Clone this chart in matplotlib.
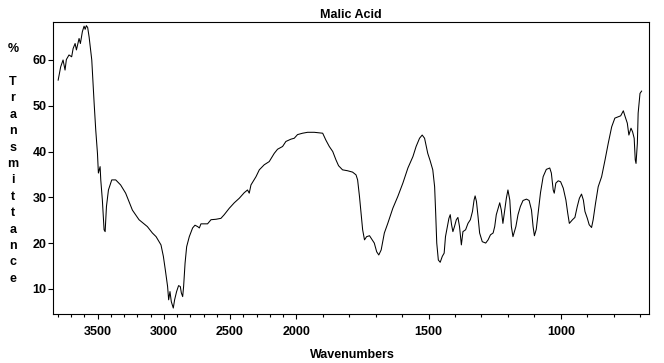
import numpy as np
import matplotlib
matplotlib.use('Agg')
import matplotlib.pyplot as plt
from matplotlib.ticker import FixedLocator, MultipleLocator

# spectrum (wavenumber cm-1, % transmittance)
wavenumbers = [3799, 3780, 3762, 3747, 3737, 3717, 3697, 3686, 3671, 3661, 3641, 3631,
               3616, 3603, 3595, 3586, 3576, 3565, 3545, 3527, 3515, 3502, 3495, 3482,
               3477, 3465, 3452, 3444, 3434, 3419, 3394, 3364, 3327, 3289, 3238, 3188,
               3125, 3087, 3059, 3022, 3004, 2989, 2972, 2964, 2954, 2944, 2929, 2919,
               2904, 2889, 2876, 2868, 2858, 2851, 2840, 2828, 2808, 2783, 2765, 2745,
               2732, 2720, 2695, 2670, 2644, 2606, 2569, 2544, 2506, 2468, 2430, 2393,
               2368, 2355, 2342, 2304, 2279, 2242, 2204, 2166, 2141, 2103, 2078, 2040,
               2015, 1995, 1976, 1957, 1932, 1900, 1888, 1875, 1862, 1850, 1840, 1825,
               1806, 1787, 1774, 1768, 1761, 1755, 1749, 1742, 1734, 1723, 1713, 1705,
               1696, 1688, 1679, 1667, 1654, 1635, 1616, 1597, 1578, 1559, 1547, 1534,
               1524, 1515, 1503, 1494, 1484, 1477, 1473, 1469, 1463, 1456, 1448, 1441,
               1436, 1431, 1423, 1418, 1413, 1408, 1402, 1395, 1389, 1383, 1376, 1370,
               1360, 1351, 1342, 1334, 1328, 1324, 1319, 1313, 1307, 1297, 1284, 1275,
               1266, 1256, 1250, 1244, 1237, 1231, 1225, 1219, 1212, 1206, 1200, 1193,
               1187, 1181, 1170, 1162, 1153, 1143, 1130, 1120, 1111, 1105, 1100, 1093,
               1086, 1077, 1067, 1055, 1042, 1036, 1029, 1025, 1019, 1010, 1001, 991,
               981, 974, 968, 962, 956, 947, 938, 930, 922, 915, 909, 900,
               893, 884, 878, 869, 859, 846, 833, 821, 808, 796, 783, 774,
               764, 757, 749, 743, 735, 729, 723, 719, 716, 711, 708, 701, 695]
transmittance = [55.6, 58.5, 60.0, 57.8, 60.1, 61.1, 60.7, 62.5, 63.6, 62.2, 64.7, 63.6,
                 66.2, 67.4, 66.7, 67.5, 67.1, 65.0, 60.0, 50.5, 44.7, 39.6, 35.3, 36.7,
                 33.8, 29.4, 22.9, 22.5, 28.0, 31.6, 33.8, 33.8, 32.7, 30.9, 27.2, 25.1,
                 23.6, 22.2, 21.4, 19.6, 17.1, 14.1, 10.5, 7.6, 9.4, 7.2, 5.8, 7.6,
                 9.4, 10.7, 10.5, 9.1, 8.3, 10.5, 15.6, 19.2, 21.4, 23.3, 23.9, 23.6,
                 23.3, 24.2, 24.2, 24.2, 25.1, 25.2, 25.4, 26.2, 27.6, 28.8, 29.8, 31.0,
                 31.6, 30.9, 32.7, 34.5, 36.0, 37.1, 37.8, 39.6, 40.5, 41.1, 42.2, 42.7,
                 42.9, 43.7, 44.0, 44.2, 44.2, 44.0, 42.5, 41.1, 40.0, 38.2, 36.9, 36.0,
                 35.8, 35.5, 34.9, 33.8, 30.2, 26.5, 22.9, 20.7, 21.4, 21.6, 20.7, 20.0,
                 18.1, 17.4, 18.5, 22.2, 24.3, 27.6, 30.2, 33.1, 36.4, 38.9, 41.1, 42.9,
                 43.6, 42.9, 39.6, 38.0, 36.0, 32.3, 26.5, 20.0, 16.3, 15.8, 17.1, 17.8,
                 21.4, 22.9, 25.4, 26.2, 24.0, 22.5, 23.6, 25.1, 25.6, 23.6, 19.6, 22.5,
                 22.9, 24.3, 25.1, 26.9, 29.4, 30.3, 29.1, 25.8, 22.2, 20.3, 20.0, 20.7,
                 21.8, 22.2, 23.6, 26.2, 27.6, 28.8, 27.2, 24.3, 27.2, 29.8, 31.6, 29.4,
                 23.6, 21.4, 23.6, 26.2, 28.0, 29.3, 29.6, 29.3, 27.2, 23.6, 21.6, 23.0,
                 26.5, 31.0, 34.5, 36.1, 36.4, 35.3, 31.6, 30.9, 33.1, 33.6, 33.4, 32.0,
                 29.4, 26.5, 24.3, 24.7, 25.1, 25.6, 28.0, 29.8, 30.7, 29.4, 26.9, 25.4,
                 24.0, 23.4, 25.1, 28.7, 32.3, 34.5, 38.2, 41.8, 45.4, 47.3, 47.6, 47.8,
                 48.9, 47.6, 46.2, 43.6, 45.1, 44.3, 42.9, 38.2, 37.4, 41.8, 48.4, 52.7, 53.2]

major_x = [3500, 3000, 2500, 2000, 1500, 1000]
major_y = [10, 20, 30, 40, 50, 60]

BREAK = 2000  # region above 2000 cm-1 is drawn at half scale


def fwd(x):
    x = np.asarray(x, dtype=float)
    return np.where(x > BREAK, BREAK + (x - BREAK) / 2.0, x)


def inv(u):
    u = np.asarray(u, dtype=float)
    return np.where(u > BREAK, BREAK + (u - BREAK) * 2.0, u)


plt.rcParams['font.family'] = ['Liberation Sans', 'DejaVu Sans']
plt.rcParams['font.weight'] = 'bold'
plt.rcParams['font.size'] = 9

fig = plt.figure(figsize=(6.64, 3.63), dpi=100)
ax = fig.add_axes([53 / 664, 1 - 314 / 363, (649 - 53) / 664, (314 - 22) / 363])

ax.plot(wavenumbers, transmittance, color='black', linewidth=0.75)

ax.set_xscale('function', functions=(fwd, inv))
ax.set_xlim(3838, 667)
ax.set_ylim(4.5, 68.3)

ax.xaxis.set_major_locator(FixedLocator(major_x))
ax.xaxis.set_minor_locator(MultipleLocator(100))
ax.xaxis.set_major_formatter(plt.FuncFormatter(lambda v, p: '%d' % v))
ax.yaxis.set_major_locator(FixedLocator(major_y))
ax.yaxis.set_minor_locator(FixedLocator([]))

ax.tick_params(axis='x', which='major', direction='out', length=3.5, width=0.8, pad=5, labelsize=9)
ax.tick_params(axis='x', which='minor', direction='out', length=1.8, width=0.8)
ax.tick_params(axis='y', which='major', direction='out', length=3.6, width=0.8, pad=1, labelsize=9)
for s in ax.spines.values():
    s.set_linewidth(0.8)

ax.set_title('Malic Acid', fontsize=9, fontweight='bold', pad=3)
fig.text(352 / 664, 1 - 355 / 363, 'Wavenumbers', ha='center', va='center',
         fontsize=9, fontweight='bold')

ylab = '%\n\n' + '\n'.join('Transmittance')
fig.text(13 / 664, 1 - 164 / 363, ylab, ha='center', va='center', fontsize=9,
         fontweight='bold', linespacing=1.49)

fig.savefig('out.png', dpi=100)
